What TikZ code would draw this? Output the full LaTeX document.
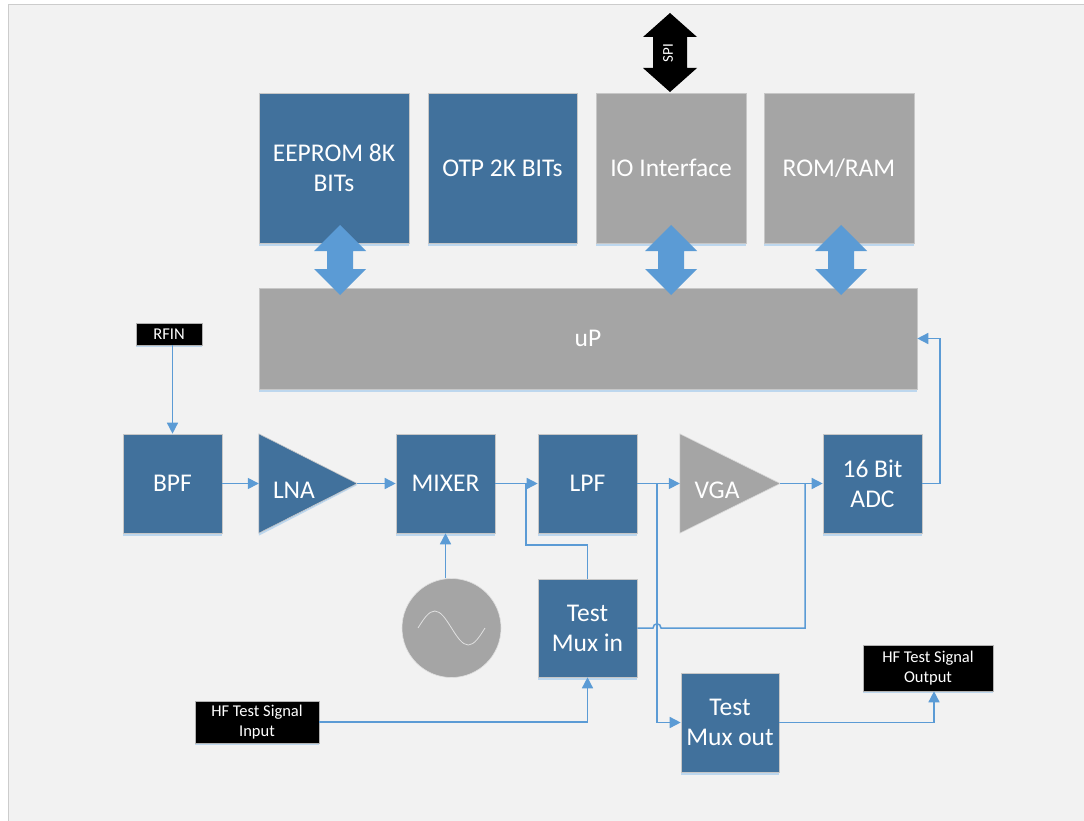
\documentclass[tikz,border=0pt]{standalone}
\usepackage{fontspec}
\setmainfont{Carlito}
\usetikzlibrary{arrows.meta,calc}
\definecolor{bluebox}{HTML}{41719C}
\definecolor{graybox}{HTML}{A5A5A5}
\definecolor{linec}{HTML}{5B9BD5}
\definecolor{bgc}{HTML}{F2F2F2}
\definecolor{shadowc}{HTML}{BDD7EE}
\newcommand{\mydblarrow}[7]{%
 \fill[#7] (#1,#2) -- (#1+#4,#2+#6) -- (#1+#5,#2+#6) -- (#1+#5,#3-#6) -- (#1+#4,#3-#6) -- (#1,#3) -- (#1-#4,#3-#6) -- (#1-#5,#3-#6) -- (#1-#5,#2+#6) -- (#1-#4,#2+#6) -- cycle;}
\tikzset{
 blk/.style={rectangle, draw=black!22, line width=0.6pt, fill=bluebox, text=white,
   font=\fontsize{25.5}{30}\selectfont, align=center, inner sep=0pt,
   preaction={fill=shadowc, transform canvas={yshift=-2.5pt}}},
 gblk/.style={blk, fill=graybox},
 lbl/.style={rectangle, draw=black!30, line width=0.6pt, fill=black, text=white,
   font=\fontsize{16.5}{20}\selectfont, align=center, inner sep=0pt,
   preaction={fill=shadowc, transform canvas={yshift=-2pt}}},
 ghost/.style={rectangle, inner sep=0pt},
 tritxt/.style={text=white, font=\fontsize{25.5}{30}\selectfont, inner sep=0pt},
 wire/.style={draw=linec, line width=1.5pt},
 arr/.style={wire, -{Triangle[length=11pt,width=11pt]}},
}
\begin{document}
\begin{tikzpicture}[x=1pt,y=-1pt]
\useasboundingbox (0,0) rectangle (1084,821);
\fill[bgc] (8,4.5) rectangle (1084,821);
\draw[black!20, line width=1pt] (8,821) -- (8,4.5) -- (1084,4.5);

% top blocks
\node[blk, minimum width=150pt, minimum height=150pt] (eeprom) at (334,168) {EEPROM 8K\\BITs};
\node[blk, minimum width=149pt, minimum height=150pt] (otp) at (502.5,168) {OTP 2K BITs};
\node[gblk, minimum width=150pt, minimum height=150pt] (io) at (671,168) {IO Interface};
\node[gblk, minimum width=150pt, minimum height=150pt] (rom) at (839,168) {ROM/RAM};
\node[gblk, minimum width=658pt, minimum height=101pt] (up) at (588,338.5) {uP};

% double arrows
\mydblarrow{340}{225}{295}{26}{13}{26}{linec}
\mydblarrow{671}{225}{295}{26}{13}{26}{linec}
\mydblarrow{841}{225}{295}{26}{13}{26}{linec}
\mydblarrow{670}{13}{92}{27}{17}{24}{black}
\node[text=white, font=\fontsize{15}{17}\selectfont, rotate=90, inner sep=0pt] (spi) at (668,53) {SPI};

% signal chain
\node[lbl, minimum width=66pt, minimum height=22pt] (rfin) at (169,334) {RFIN};
\node[blk, minimum width=99pt, minimum height=99pt] (bpf) at (172.5,483.5) {BPF};
\node[ghost, minimum width=98pt, minimum height=99pt] (lna) at (308,483.5) {};
\fill[shadowc] ([yshift=-2.5pt]lna.north west) -- ([yshift=-2.5pt]lna.south west) -- ([yshift=-1.5pt]lna.east) -- cycle;
\filldraw[fill=bluebox, draw=black!22, line width=0.6pt] (lna.north west) -- (lna.south west) -- (lna.east) -- cycle;
\node[tritxt] (lnatxt) at (294,490) {LNA};
\node[blk, minimum width=99pt, minimum height=99pt] (mixer) at (445.5,483.5) {MIXER};
\node[blk, minimum width=99pt, minimum height=99pt] (lpf) at (587.5,483.5) {LPF};
\node[ghost, minimum width=100pt, minimum height=99pt] (vga) at (730,483.5) {};
\filldraw[fill=graybox, draw=black!15, line width=0.6pt] (vga.north west) -- (vga.south west) -- (vga.east) -- cycle;
\node[tritxt] (vgatxt) at (717,490) {VGA};
\node[blk, minimum width=99pt, minimum height=99pt] (adc) at (872.5,483.5) {16 Bit\\ADC};

% oscillator
\node[circle, fill=graybox, draw=black!12, line width=0.6pt, minimum size=99pt, inner sep=0pt] (osc) at (451.5,628) {};
\draw[black!12, line width=0.8pt] (418,628) sin (434.75,611) cos (451.5,628) sin (468.25,645) cos (485,628);

\node[blk, minimum width=99pt, minimum height=98pt] (muxin) at (587.5,628) {Test\\Mux in};
\node[blk, minimum width=98pt, minimum height=99pt] (muxout) at (730,722.5) {Test\\Mux out};
\node[lbl, minimum width=130pt, minimum height=46pt] (hfout) at (928,668) {HF Test Signal\\Output};
\node[lbl, minimum width=124pt, minimum height=42pt] (hfin) at (257,722) {HF Test Signal\\Input};

% junction coordinates
\coordinate (j1) at (526,483.5);
\coordinate (j1a) at (526,545);
\coordinate (j2) at (657,483.5);
\coordinate (j3) at (805,483.5);
\coordinate (hopL) at (653,628);
\coordinate (hopR) at (661,628);
\coordinate (adcr) at (940,483.5);

% connectors
\draw[arr] (bpf.north |- rfin.south) -- (bpf.north);
\draw[arr] (bpf.east) -- (lna.west);
\draw[arr] (lna.east) -- (mixer.west);
\draw[arr] (mixer.east) -- (lpf.west);
\draw[wire] (muxin.north) |- (j1a) -- (j1);
\draw[arr] (mixer.south |- osc.north) -- (mixer.south);
\draw[arr] (lpf.east) -- (vga.west);
\draw[arr] (j2) |- (muxout.west);
\draw[wire] (muxin.east) -- (hopL) .. controls ($(hopL)+(0,-5.5)$) and ($(hopR)+(0,-5.5)$) .. (hopR) -| (j3);
\draw[arr] (vga.east) -- (adc.west);
\draw[arr] (adc.east) -- (adcr) |- (up.east);
\draw[arr] (muxout.east) -| ([xshift=6pt]hfout.south);
\draw[arr] (hfin.east) -| (muxin.south);
\end{tikzpicture}
\end{document}
